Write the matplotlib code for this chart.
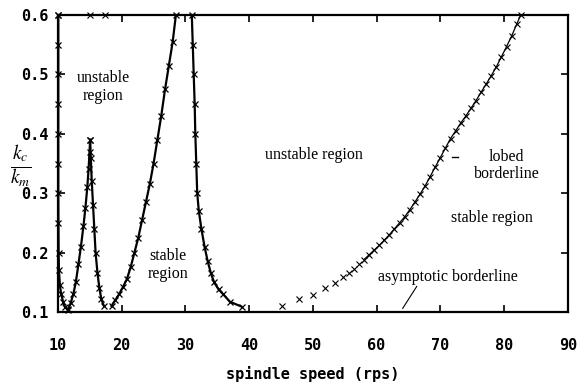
import matplotlib.pyplot as plt

plt.rcParams['mathtext.fontset'] = 'stix'

# stability lobes (speed in rps, kc/km)
lobe_a_x = [10.05, 10.05, 10.05, 10.05, 10.05, 10.05, 10.05, 10.07, 10.1, 10.15, 10.3, 10.5, 10.8, 11.1, 11.5]
lobe_a_y = [0.6, 0.55, 0.5, 0.45, 0.4, 0.35, 0.3, 0.25, 0.2, 0.17, 0.145, 0.13, 0.117, 0.108, 0.104]

lobe_b_x = [11.6, 12.0, 12.4, 12.8, 13.2, 13.6, 14.0, 14.3, 14.6, 14.8, 14.95, 15.05]
lobe_b_y = [0.105, 0.115, 0.13, 0.15, 0.18, 0.21, 0.245, 0.275, 0.31, 0.34, 0.37, 0.39]

lobe_c_x = [15.05, 15.15, 15.3, 15.5, 15.7, 15.9, 16.2, 16.5, 16.8, 17.2]
lobe_c_y = [0.39, 0.36, 0.32, 0.28, 0.24, 0.2, 0.165, 0.14, 0.122, 0.11]

lobe_d_x = [18.4, 19.0, 19.6, 20.2, 20.8, 21.4, 22.0, 22.6, 23.2, 23.8, 24.4, 25.0, 25.6, 26.2, 26.8, 27.4, 28.0, 28.5]
lobe_d_y = [0.11, 0.12, 0.13, 0.142, 0.155, 0.175, 0.2, 0.225, 0.255, 0.285, 0.315, 0.35, 0.39, 0.43, 0.475, 0.515, 0.555, 0.6]

lobe_e_x = [31.0, 31.15, 31.3, 31.45, 31.55, 31.7, 31.85, 32.1, 32.5, 33.0, 33.5, 34.0, 34.5, 35.2, 35.9, 37.0, 38.8]
lobe_e_y = [0.6, 0.55, 0.5, 0.45, 0.4, 0.35, 0.3, 0.27, 0.24, 0.21, 0.185, 0.165, 0.15, 0.138, 0.13, 0.117, 0.109]

# right-hand borderline: sparse crosses at low speed, then dense with a line
sparse_x = [45.1, 47.9, 50.0, 51.9, 53.4, 54.7, 55.6, 56.4, 57.2]
sparse_y = [0.11, 0.122, 0.128, 0.14, 0.148, 0.158, 0.165, 0.172, 0.18]

lobed_x = [58.0, 58.8, 59.6, 60.4, 61.2, 62.0, 62.8, 63.6, 64.4, 65.2, 66.0, 66.8, 67.6, 68.4, 69.2,
           70.0, 70.8, 71.6, 72.4, 73.2, 74.0, 74.8, 75.6, 76.4, 77.2, 78.0, 78.8, 79.6, 80.4, 81.2, 82.0, 82.6]
lobed_y = [0.188, 0.196, 0.204, 0.212, 0.221, 0.23, 0.24, 0.25, 0.26, 0.272, 0.285, 0.298, 0.312, 0.328, 0.344,
           0.36, 0.376, 0.392, 0.405, 0.418, 0.43, 0.443, 0.456, 0.47, 0.484, 0.498, 0.513, 0.53, 0.547, 0.565, 0.585, 0.6]

top_x = [10.0, 15.0, 17.4]
top_y = [0.6, 0.6, 0.6]

xticks = [10, 20, 30, 40, 50, 60, 70, 80, 90]
yticks = [0.1, 0.2, 0.3, 0.4, 0.5, 0.6]

fig = plt.figure(figsize=(5.77, 3.87), dpi=100)
ax = fig.add_axes([0.1005, 0.194, 0.8835, 0.767])

for bx, by in [(lobe_a_x, lobe_a_y), (lobe_b_x, lobe_b_y), (lobe_c_x, lobe_c_y),
               (lobe_d_x, lobe_d_y), (lobe_e_x, lobe_e_y)]:
    ax.plot(bx, by, color='black', lw=1.6, marker='x', ms=4, mew=0.9, clip_on=False)

ax.plot(sparse_x, sparse_y, ls='none', color='black', marker='x', ms=4, mew=0.8)
ax.plot(lobed_x, lobed_y, color='black', lw=0.9, marker='x', ms=4.5, mew=0.8, clip_on=False)
ax.plot(top_x, top_y, ls='none', color='black', marker='x', ms=4, mew=0.8, clip_on=False)

ax.set_xlim(10, 90)
ax.set_ylim(0.1, 0.6)
ax.set_xticks(xticks)
ax.set_yticks(yticks)
ax.set_xticklabels([str(t) for t in xticks])
ax.set_yticklabels(['%.1f' % t for t in yticks])
ax.tick_params(direction='in', length=5, width=1.2, top=True, right=True)
ax.tick_params(axis='x', pad=19)
ax.tick_params(axis='y', pad=7)
for lab in ax.get_xticklabels() + ax.get_yticklabels():
    lab.set_family('DejaVu Sans Mono')
    lab.set_weight('bold')
    lab.set_fontsize(11)
for s in ax.spines.values():
    s.set_linewidth(1.6)

ax.set_xlabel('spindle speed (rps)', family='DejaVu Sans Mono', weight='bold', fontsize=11, labelpad=9)
fig.text(0.036, 0.57, r'$\frac{k_c}{k_m}$', fontsize=20, ha='center', va='center')

serif = dict(family='Liberation Serif', fontsize=11.5, ha='center', va='center', linespacing=1.1)
ax.text(17.1, 0.479, 'unstable\nregion', **serif)
ax.text(27.3, 0.179, 'stable\nregion', **serif)
ax.text(50.2, 0.364, 'unstable region', **serif)
ax.text(80.4, 0.347, 'lobed\nborderline', **serif)
ax.text(78.1, 0.258, 'stable region', **serif)
ax.text(71.2, 0.159, 'asymptotic borderline', **serif)
ax.plot([66.3, 64.1], [0.143, 0.106], color='black', lw=0.8)
ax.plot([71.8, 72.7], [0.361, 0.361], color='black', lw=1.0)

fig.savefig('out.png', dpi=100)
